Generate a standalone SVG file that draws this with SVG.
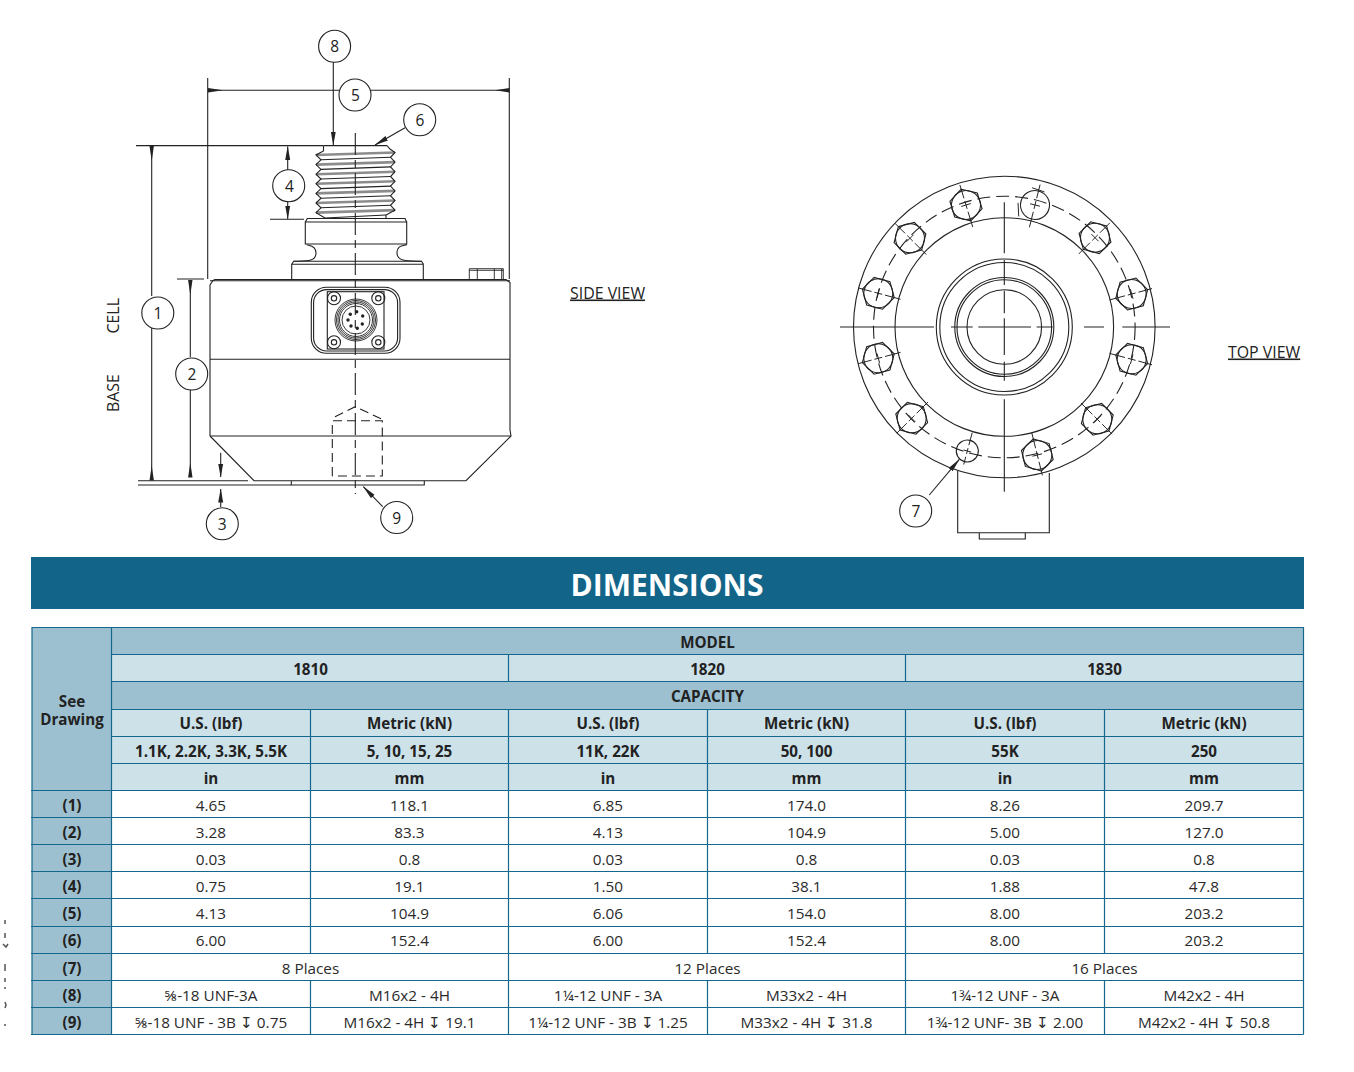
<svg xmlns="http://www.w3.org/2000/svg" width="1354" height="1072" viewBox="0 0 1354 1072">
<style>
.l{fill:none;stroke:#222;stroke-width:1.1}
.t{stroke-width:.9}
.d{stroke-dasharray:13 6}
.h{stroke-dasharray:9 5}
.c{font:15.300px "Open Sans","Liberation Sans",sans-serif;fill:#2a2a2a;text-anchor:middle}
.b{font-weight:700;font-size:15.200px;fill:#222}
.n{font:15.500px "Open Sans","Liberation Sans",sans-serif;fill:#222;text-anchor:middle}
.v{font:15.900px "Open Sans","Liberation Sans",sans-serif;fill:#222}
.g{fill:#fff;stroke:#222;stroke-width:1.1}
.dk{fill:#9dc0d0}.lt{fill:#cde1e9}
.tb{stroke:#14688e;stroke-width:1.2;fill:none}
</style>
<defs>
<marker id="a" markerUnits="userSpaceOnUse" markerWidth="15" markerHeight="6" refX="14.500" refY="3" orient="auto"><path d="M0 3L1 3 0 3 15 .8V5.200z" fill="#222"/></marker>
<marker id="s" markerUnits="userSpaceOnUse" markerWidth="14" markerHeight="6" refX="13.500" refY="3" orient="auto"><path d="M0 .5L14 3 0 5.500z" fill="#222"/></marker>
<g id="bolt"><polygon class="l" points="16.500,0 8.200,14.300 -8.200,14.300 -16.500,0 -8.200,-14.300 8.200,-14.300"/><circle class="l" r="14.500"/><path class="l t" d="M-23 0H-7M-4 0H4M7 0H21M0-5V5"/></g>
</defs>
<path d="M5 920v4M5 933v5M3 944l3 3 2-3M5 964v7M5 978v4M4 988h2M5 1002l1 3-1 3M4 1025h2" stroke="#555" stroke-width="1.500" fill="none"/>

<g id="side-view">
<path class="l" d="M210 436V285l3-4.500 2-1H506l4 3V359.300M510 359.300V430l1 6-45 44.700H254L210 436"/>
<path class="l" d="M210 280.800H510M210 359.300H510M210 436H511"/>
<path class="l" d="M291.300 481V485H424.300V481"/>
<path class="l" d="M291.700 279.300V264.300H423.300V279.300M291.700 264.300l2-3H421.500l2 3"/>
<path class="l" d="M293.500 261.300C306 261 316 262 316 253S307 246 306.700 244.500M421.500 261.300C409 261 397 262 397 253S405 246 406.700 244.500"/>
<path class="l" d="M305.300 222H406.700V244H305.300zM305.300 222l2-3.500H405l1.700 3.500"/>
<path d="M316 155L395 152.500M316 164.600L395 162.100M316 174.200L395 171.700M316 183.800L395 181.300M316 193.400L395 190.900M316 203L395 200.500M316 212.600L395 210.100" fill="none" stroke="#8c8c8c" stroke-width="2.600"/>
<path class="l" d="M323.500 145.600H387M323.500 145.600V151L316 155l5 4.800-5 4.800 5 4.800-5 4.800 5 4.800-5 4.800 5 4.800-5 4.800 5 4.800-5 4.800 5 4.800-5 4.800 9 5.400M387 145.600l3 3.400 5 3.500-4.500 4.800 4.500 4.800-4.500 4.800 4.500 4.800-4.500 4.800 4.500 4.800-4.500 4.800 4.500 4.800-4.500 4.800 4.500 4.800-4.500 4.800 4.500 4.800-9 4.900V218"/>
<path class="l" d="M321 159.800L390.500 157.300M321 169.400L390.500 166.900M321 179L390.500 176.500M321 188.600L390.500 186.100M321 198.200L390.500 195.700M321 207.800L390.500 205.300M325 218L386 215"/>
<path class="l t" d="M469.300 279.300V268.700H503.300V279.300M469.300 270.300H503.300M477.300 268.700V279.300M494.300 268.700V279.300M501.700 268.700V279.300"/>
<rect class="l" x="311.300" y="287.300" width="88.700" height="66" rx="15"/>
<rect class="l" x="313.600" y="289.600" width="84" height="61.400" rx="13"/>
<rect class="l" x="327.300" y="291.700" width="56.700" height="57.300"/>
<g class="l"><circle cx="334" cy="298.300" r="6.500"/><circle cx="334" cy="298.300" r="2.700"/><circle cx="378.300" cy="298.300" r="6.500"/><circle cx="378.300" cy="298.300" r="2.700"/><circle cx="334" cy="342.300" r="6.500"/><circle cx="334" cy="342.300" r="2.700"/><circle cx="378.300" cy="342.300" r="6.500"/><circle cx="378.300" cy="342.300" r="2.700"/></g>
<g class="l t"><circle cx="356" cy="320" r="21"/><circle cx="356" cy="320" r="19.500"/><circle cx="356" cy="320" r="18"/><circle cx="356" cy="320" r="16.500"/><circle cx="356" cy="320" r="14"/></g>
<g fill="#222"><circle cx="356.700" cy="311.700" r="1.700"/><circle cx="362.700" cy="316" r="1.700"/><circle cx="362.300" cy="324" r="1.700"/><circle cx="357.300" cy="328.300" r="1.700"/><circle cx="351" cy="326" r="1.700"/><circle cx="348" cy="320" r="1.700"/><circle cx="350.300" cy="314.300" r="1.700"/></g>
<path class="l h" d="M332.300 476V420.700H382.300V476H332.300"/>
<path class="l h" d="M335 416.700L355.300 406.700 381.700 419"/>
<path class="l" d="M355.300 133V494" stroke-dasharray="22 5 8 5"/>
<text class="v" transform="translate(118.500 333.500) rotate(-90)">CELL</text>
<text class="v" transform="translate(118.500 412) rotate(-90)">BASE</text>
<text class="v" x="570" y="298.500" text-decoration="underline">SIDE VIEW</text>
</g>

<g id="top-view">
<circle class="l" cx="1004.300" cy="327" r="150.800"/>
<circle class="l" cx="1004.300" cy="327" r="109.300"/>
<circle class="l" cx="1004.300" cy="327" r="68"/>
<circle class="l" cx="1004.300" cy="327" r="64.500"/>
<circle class="l" cx="1004.300" cy="327" r="49.500"/>
<circle class="l" cx="1004.300" cy="327" r="47.300"/>
<circle class="l" cx="1004.300" cy="327" r="37.300"/>
<circle class="l d" cx="1004.300" cy="327" r="130.800"/>
<path class="l" d="M840 327H934M951 327H972.700M978.300 327H1031M1036.700 327H1052.700M1084 327H1104M1122.300 327H1170M1004.300 202.300V253.300M1004.300 260V285M1004.300 290.700V313.300M1004.300 318.300V355M1004.300 361.700V380.700M1004.300 399.300V491.700"/>
<use href="#bolt" transform="translate(966 205) rotate(-107)"/>
<g transform="translate(1035 205) rotate(-76)"><circle class="l" r="14.500"/><path class="l t" d="M-23 0H-7M-4 0H4M7 0H21M0-5V5M-15 -13L-2 -17M16-7L15 6"/></g>
<use href="#bolt" transform="translate(1095 237.700) rotate(-45)"/>
<use href="#bolt" transform="translate(1131.700 294) rotate(-15)"/>
<use href="#bolt" transform="translate(1131.700 359.300) rotate(15)"/>
<use href="#bolt" transform="translate(1097.300 419.300) rotate(45)"/>
<use href="#bolt" transform="translate(1037.300 455) rotate(76)"/>
<g transform="translate(967.300 451) rotate(105)"><circle class="l" r="11"/><path class="l t" d="M-19 0H-6M-3 0H3M6 0H14M0-4V4"/></g>
<use href="#bolt" transform="translate(911.700 418.300) rotate(135)"/>
<use href="#bolt" transform="translate(878.300 358.300) rotate(165)"/>
<use href="#bolt" transform="translate(878.300 293.300) rotate(195)"/>
<use href="#bolt" transform="translate(910 238.300) rotate(225)"/>
<path class="l" d="M957.700 471V532.700H1049.300V473M979.300 532.700V539H1025.300V532.700H979.300"/>
<text class="v" x="1228" y="357.500" text-decoration="underline">TOP VIEW</text>
</g>

<g id="connectors" class="l">
<path d="M136 145.600H323M207.700 78V279M509.300 78V279M177 279H204M138 480.700H248M138 485H291M270 219.300H304"/>
<path d="M339 90.300H208.500" marker-end="url(#a)"/>
<path d="M371 90.300H509" marker-end="url(#a)"/>
<path d="M333.300 62V145" marker-end="url(#s)"/>
<path d="M405 127.700L375 145" marker-end="url(#s)"/>
<path d="M287.700 170V146.500" marker-end="url(#s)"/>
<path d="M287.700 201V219" marker-end="url(#s)"/>
<path d="M151.700 296V146.500" marker-end="url(#a)"/>
<path d="M151.700 328V480" marker-end="url(#a)"/>
<path d="M190.300 357V280.500" marker-end="url(#a)"/>
<path d="M190.300 389V477" marker-end="url(#a)"/>
<path d="M220.700 452.700V477" marker-end="url(#s)"/>
<path d="M220.700 507V489" marker-end="url(#s)"/>
<path d="M382.700 506.700L363.300 486.700" marker-end="url(#s)"/>
<path d="M929.300 495L959.300 459.300" marker-end="url(#s)"/>
</g>

<g id="callouts">
<g id="callout-1"><circle class="g" cx="157.800" cy="313" r="16"/><text class="n" x="158" y="319">1</text></g>
<g id="callout-2"><circle class="g" cx="191.700" cy="374" r="16"/><text class="n" x="191.900" y="380">2</text></g>
<g id="callout-3"><circle class="g" cx="222.300" cy="523.800" r="16"/><text class="n" x="222.300" y="530">3</text></g>
<g id="callout-4"><circle class="g" cx="288.700" cy="185.700" r="16"/><text class="n" x="289.500" y="191.800">4</text></g>
<g id="callout-5"><circle class="g" cx="355" cy="95" r="16"/><text class="n" x="355.500" y="101">5</text></g>
<g id="callout-6"><circle class="g" cx="419.700" cy="119.800" r="16"/><text class="n" x="420" y="125.800">6</text></g>
<g id="callout-7"><circle class="g" cx="915.700" cy="511" r="16"/><text class="n" x="916" y="516.800">7</text></g>
<g id="callout-8"><circle class="g" cx="334.600" cy="46.300" r="16"/><text class="n" x="334.700" y="52.300">8</text></g>
<g id="callout-9"><circle class="g" cx="396.700" cy="517.500" r="16"/><text class="n" x="396.700" y="523.500">9</text></g>
</g>

<g id="banner"><rect x="31" y="557" width="1273" height="52" fill="#126589"/><text x="667" y="596" fill="#fff" text-anchor="middle" style="font:700 30px 'Open Sans','Liberation Sans',sans-serif">DIMENSIONS</text></g>

<g id="table">
<rect class="dk" x="32" y="627.500" width="79.500" height="407"/>
<rect class="dk" x="111.500" y="627.500" width="1192" height="27"/>
<rect class="lt" x="111.500" y="654.500" width="1192" height="27"/>
<rect class="dk" x="111.500" y="681.500" width="1192" height="28"/>
<rect class="lt" x="111.500" y="709.500" width="1192" height="81"/>
<path class="tb" d="M32 627.500H1303.500M111.500 654.500H1303.500M111.500 681.500H1303.500M111.500 709.500H1303.500M111.500 736.500H1303.500M111.500 763.500H1303.500M31 790.500H1303.500M31 817.500H1303.500M31 844.500H1303.500M31 871.500H1303.500M31 898.500H1303.500M31 926.500H1303.500M31 953.500H1303.500M31 980.500H1303.500M31 1007.500H1303.500M31 1034.500H1303.500"/>
<path class="tb" d="M32 627V1034.500M111.500 627V1034.500M1303.500 627V1034.500M508.500 654.500V681.500M905.500 654.500V681.500M310.500 709.500V953.500M508.500 709.500V1034.500M707.500 709.500V953.500M905.500 709.500V1034.500M1104.500 709.500V953.500M310.500 980.500V1034.500M707.500 980.500V1034.500M1104.500 980.500V1034.500"/>
<g class="c b">
<text x="707.500" y="647.600">MODEL</text><text x="310.500" y="675">1810</text><text x="707.500" y="675">1820</text><text x="1104.500" y="675">1830</text><text x="707.500" y="702">CAPACITY</text>
<text x="72" y="707">See<tspan x="72" dy="18">Drawing</tspan></text>
<text x="211" y="729">U.S. (lbf)</text><text x="409.500" y="729">Metric (kN)</text><text x="608" y="729">U.S. (lbf)</text><text x="806.500" y="729">Metric (kN)</text><text x="1005" y="729">U.S. (lbf)</text><text x="1204" y="729">Metric (kN)</text>
<text x="211" y="757">1.1K, 2.2K, 3.3K, 5.5K</text><text x="409.500" y="757">5, 10, 15, 25</text><text x="608" y="757">11K, 22K</text><text x="806.500" y="757">50, 100</text><text x="1005" y="757">55K</text><text x="1204" y="757">250</text>
<text x="211" y="784">in</text><text x="409.500" y="784">mm</text><text x="608" y="784">in</text><text x="806.500" y="784">mm</text><text x="1005" y="784">in</text><text x="1204" y="784">mm</text>
<text x="72" y="811">(1)</text><text x="72" y="838">(2)</text><text x="72" y="865">(3)</text><text x="72" y="892">(4)</text><text x="72" y="919">(5)</text><text x="72" y="946">(6)</text><text x="72" y="974">(7)</text><text x="72" y="1001">(8)</text><text x="72" y="1028">(9)</text>
</g>
<g class="c">
<text x="211" y="811">4.65</text><text x="409.500" y="811">118.1</text><text x="608" y="811">6.85</text><text x="806.500" y="811">174.0</text><text x="1005" y="811">8.26</text><text x="1204" y="811">209.7</text>
<text x="211" y="838">3.28</text><text x="409.500" y="838">83.3</text><text x="608" y="838">4.13</text><text x="806.500" y="838">104.9</text><text x="1005" y="838">5.00</text><text x="1204" y="838">127.0</text>
<text x="211" y="865">0.03</text><text x="409.500" y="865">0.8</text><text x="608" y="865">0.03</text><text x="806.500" y="865">0.8</text><text x="1005" y="865">0.03</text><text x="1204" y="865">0.8</text>
<text x="211" y="892">0.75</text><text x="409.500" y="892">19.1</text><text x="608" y="892">1.50</text><text x="806.500" y="892">38.1</text><text x="1005" y="892">1.88</text><text x="1204" y="892">47.8</text>
<text x="211" y="919">4.13</text><text x="409.500" y="919">104.9</text><text x="608" y="919">6.06</text><text x="806.500" y="919">154.0</text><text x="1005" y="919">8.00</text><text x="1204" y="919">203.2</text>
<text x="211" y="946">6.00</text><text x="409.500" y="946">152.4</text><text x="608" y="946">6.00</text><text x="806.500" y="946">152.4</text><text x="1005" y="946">8.00</text><text x="1204" y="946">203.2</text>
<text x="310.500" y="974">8 Places</text><text x="707.500" y="974">12 Places</text><text x="1104.500" y="974">16 Places</text>
<text x="211" y="1001">⅝-18 UNF-3A</text><text x="409.500" y="1001">M16x2 - 4H</text><text x="608" y="1001">1¼-12 UNF - 3A</text><text x="806.500" y="1001">M33x2 - 4H</text><text x="1005" y="1001">1¾-12 UNF - 3A</text><text x="1204" y="1001">M42x2 - 4H</text>
<text x="211" y="1028">⅝-18 UNF - 3B ↧ 0.75</text><text x="409.500" y="1028">M16x2 - 4H ↧ 19.1</text><text x="608" y="1028">1¼-12 UNF - 3B ↧ 1.25</text><text x="806.500" y="1028">M33x2 - 4H ↧ 31.8</text><text x="1005" y="1028">1¾-12 UNF- 3B ↧ 2.00</text><text x="1204" y="1028">M42x2 - 4H ↧ 50.8</text>
</g>
</g>
</svg>
